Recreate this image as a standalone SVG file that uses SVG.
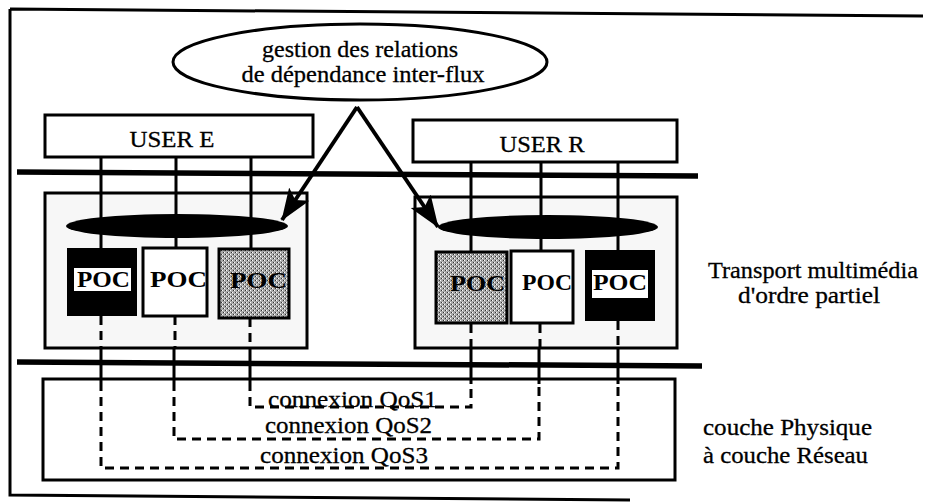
<svg xmlns="http://www.w3.org/2000/svg" width="925" height="502" viewBox="0 0 925 502">
<defs>
<marker id="ah" markerUnits="userSpaceOnUse" markerWidth="34" markerHeight="26" refX="31" refY="12" orient="auto">
<path d="M0,0 L32,12 L0,24 L7,12 z" fill="#000"/>
</marker>
<pattern id="dither" width="4" height="4" patternUnits="userSpaceOnUse">
<rect width="4" height="4" fill="#a8a8a8"/>
<rect x="0" y="0" width="1" height="1" fill="#fff"/>
<rect x="2" y="2" width="1" height="1" fill="#fff"/>
<rect x="1" y="2" width="1" height="1" fill="#333"/>
<rect x="3" y="0" width="1" height="1" fill="#333"/>
</pattern>
</defs>
<style>
.t{font-family:"Liberation Serif","Times New Roman",serif;font-size:23px;fill:#000;stroke:#000;stroke-width:0.3}
.l{font-size:24px}
.b{font-family:"Liberation Serif","Times New Roman",serif;font-size:23px;font-weight:bold;fill:#000}
.box{fill:#fff;stroke:#000;stroke-width:3}
.tbox{fill:#f7f7f7;stroke:#000;stroke-width:3}
.thick{stroke:#000;stroke-width:5.5;fill:none}
.solid{stroke:#000;stroke-width:3;fill:none}
.dash{stroke:#000;stroke-width:3;fill:none;stroke-dasharray:9 6}
.arrow{stroke:#000;stroke-width:4;fill:none}
</style>
<rect width="925" height="502" fill="#fff"/>
<g id="frame">
<path d="M10,9 L923,16 M10,9 L10,495 L630,500" class="solid"/>
</g>
<g id="layers">
<line x1="17" y1="172" x2="698" y2="176" class="thick"/>
<line x1="17" y1="362" x2="702" y2="366" class="thick"/>
</g>
<g id="transportE"><rect x="45" y="193" width="262" height="155" class="tbox"/></g>
<g id="transportR"><rect x="415" y="197" width="262" height="151" class="tbox"/></g>
<g id="physique"><rect x="43" y="379" width="632" height="101" class="box"/></g>
<g id="userE"><rect x="45" y="115" width="268" height="42" class="box"/>
<text class="t" x="172" y="147" text-anchor="middle" textLength="85" lengthAdjust="spacingAndGlyphs">USER E</text></g>
<g id="userR"><rect x="413" y="120" width="264" height="42" class="box"/>
<text class="t" x="542" y="152" text-anchor="middle" textLength="85" lengthAdjust="spacingAndGlyphs">USER R</text></g>
<g id="connectors">
<path d="M101,157 V248 M176,157 V248 M251,157 V248" class="solid"/>
<path d="M471,162 V251 M541,162 V251 M618,162 V251" class="solid"/>
<path d="M101,316 V348 M175,316 V348 M250,318 V348 M471,324 V348 M540,324 V348 M618,321 V348" class="dash"/>
<path d="M101,348 V382 M174,348 V382 M250,348 V382 M471,348 V384 M539,348 V384 M618,348 V384" class="solid"/>
<path d="M250,382 V407 H471 V384" class="dash"/>
<path d="M174,382 V439 H539 V384" class="dash"/>
<path d="M101,382 V468 H618 V384" class="dash"/>
<line x1="357" y1="107" x2="282" y2="220" class="arrow" marker-end="url(#ah)"/>
<line x1="357" y1="107" x2="438" y2="227" class="arrow" marker-end="url(#ah)"/>
</g>
<g id="ovalE"><ellipse cx="177" cy="226" rx="111" ry="12" fill="#000"/></g>
<g id="ovalR"><ellipse cx="548" cy="227" rx="110" ry="12" fill="#000"/></g>
<g id="gestion">
<ellipse cx="360" cy="62" rx="187" ry="38" fill="#fff" stroke="#000" stroke-width="3"/>
<text class="t l" x="360" y="57" text-anchor="middle" textLength="196" lengthAdjust="spacingAndGlyphs">gestion des relations</text>
<text class="t l" x="363" y="82" text-anchor="middle" textLength="243" lengthAdjust="spacingAndGlyphs">de dépendance inter-flux</text>
</g>
<g id="pocE1"><rect x="67" y="248" width="70" height="68" fill="#000"/>
<rect x="74" y="268" width="57" height="23" fill="#fff"/>
<text class="b" x="77" y="287" textLength="53" lengthAdjust="spacingAndGlyphs">POC</text></g>
<g id="pocE2"><rect x="143" y="248" width="64" height="68" fill="#fff" stroke="#000" stroke-width="3"/>
<text class="b" x="150" y="287" textLength="57" lengthAdjust="spacingAndGlyphs">POC</text></g>
<g id="pocE3"><rect x="219" y="249" width="70" height="69" fill="url(#dither)" stroke="#000" stroke-width="3"/>
<text class="b" x="230" y="288" textLength="57" lengthAdjust="spacingAndGlyphs">POC</text></g>
<g id="pocR1"><rect x="436" y="252" width="71" height="71" fill="url(#dither)" stroke="#000" stroke-width="3"/>
<text class="b" x="450" y="291" textLength="55" lengthAdjust="spacingAndGlyphs">POC</text></g>
<g id="pocR2"><rect x="511" y="251" width="62" height="72" fill="#fff" stroke="#000" stroke-width="3"/>
<text class="b" x="522" y="290" textLength="50" lengthAdjust="spacingAndGlyphs">POC</text></g>
<g id="pocR3"><rect x="585" y="250" width="70" height="71" fill="#000"/>
<rect x="592" y="270" width="56" height="28" fill="#fff"/>
<text class="b" x="593" y="290" textLength="54" lengthAdjust="spacingAndGlyphs">POC</text></g>
<g id="qos">
<text class="t" x="268" y="407" textLength="169" lengthAdjust="spacingAndGlyphs">connexion QoS1</text>
<text class="t" x="265" y="433" textLength="167" lengthAdjust="spacingAndGlyphs">connexion QoS2</text>
<text class="t" x="260" y="463" textLength="168" lengthAdjust="spacingAndGlyphs">connexion QoS3</text>
</g>
<g id="labels">
<text class="t l" x="708" y="278" textLength="210" lengthAdjust="spacingAndGlyphs">Transport multimédia</text>
<text class="t l" x="738" y="303" textLength="142" lengthAdjust="spacingAndGlyphs">d'ordre partiel</text>
<text class="t l" x="703" y="435" textLength="169" lengthAdjust="spacingAndGlyphs">couche Physique</text>
<text class="t l" x="703" y="463" textLength="165" lengthAdjust="spacingAndGlyphs">à couche Réseau</text>
</g>
</svg>
